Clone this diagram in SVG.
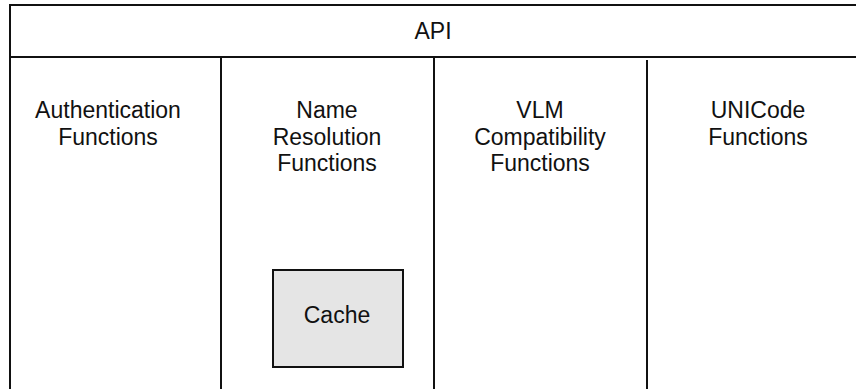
<svg xmlns="http://www.w3.org/2000/svg" width="856" height="389" viewBox="0 0 856 389">
<style>
.ln{stroke:#111;stroke-width:2;fill:none}
.t{font-family:"Liberation Sans",Arial,sans-serif;font-size:23px;fill:#111;text-anchor:middle}
</style>
<rect width="856" height="389" fill="#fff"/>
<g id="connectors">
<path class="ln" d="M10,389 V5 H860"/>
<path class="ln" d="M10,57 H860"/>
<path class="ln" d="M221,57 V389"/>
<path class="ln" d="M434,57 V389"/>
<path class="ln" d="M647,60 V389"/>
</g>
<g id="api"><text class="t" x="433" y="39">API</text></g>
<g id="auth"><text class="t" x="108" y="118">Authentication</text><text class="t" x="108" y="144.5">Functions</text></g>
<g id="nameres"><text class="t" x="327" y="118">Name</text><text class="t" x="327" y="144.5">Resolution</text><text class="t" x="327" y="171">Functions</text></g>
<g id="vlm"><text class="t" x="540" y="118">VLM</text><text class="t" x="540" y="144.5">Compatibility</text><text class="t" x="540" y="171">Functions</text></g>
<g id="unicode"><text class="t" x="758" y="118">UNICode</text><text class="t" x="758" y="144.5">Functions</text></g>
<g id="cache"><rect x="273" y="270" width="130" height="97" class="ln" style="fill:#e5e5e5"/><text class="t" x="337" y="323">Cache</text></g>
</svg>
